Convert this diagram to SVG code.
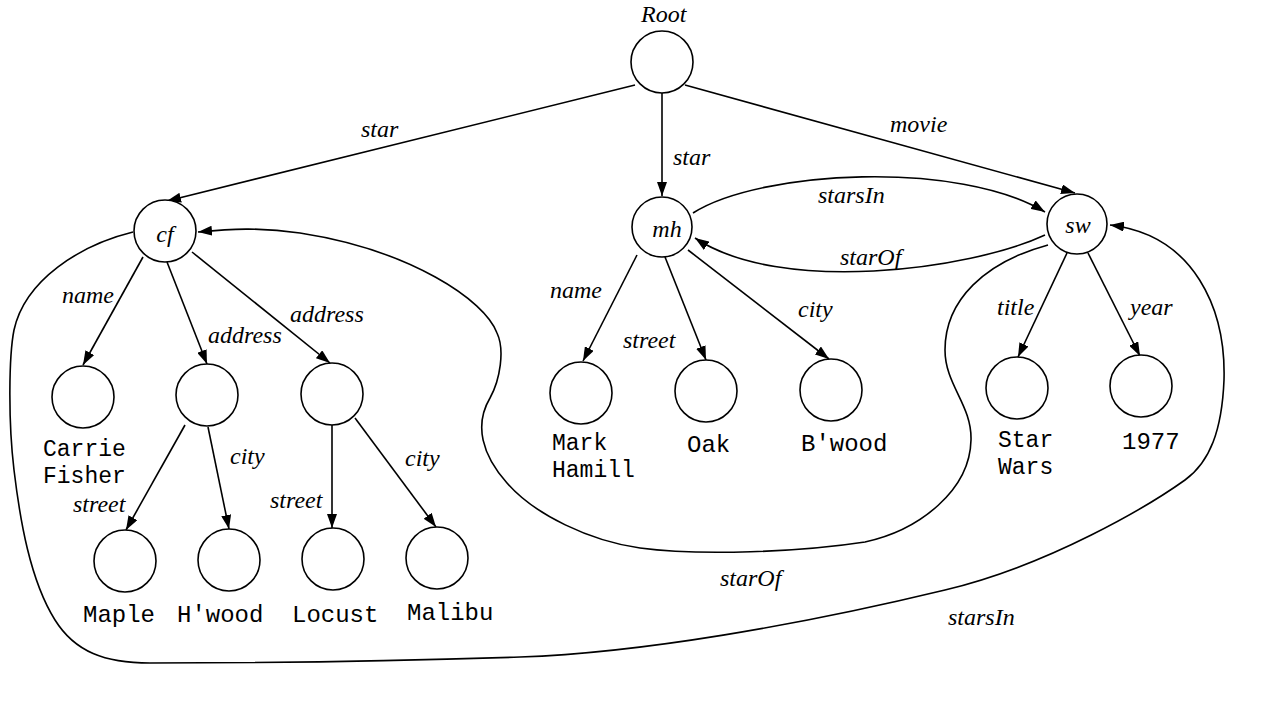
<svg xmlns="http://www.w3.org/2000/svg" width="1265" height="707" viewBox="0 0 1265 707">
<style>
.n{fill:#fff;stroke:#000;stroke-width:1.6}
.e{fill:none;stroke:#000;stroke-width:1.6;marker-end:url(#ah)}
.l{font-family:"Liberation Serif","Times New Roman",serif;font-style:italic;font-size:24px;fill:#000}
.v{font-family:"Liberation Mono","Courier New",monospace;font-size:24px;fill:#000}
.v2{font-family:"Liberation Mono","Courier New",monospace;font-size:23px;fill:#000}
.m{text-anchor:middle}
</style>
<defs>
<marker id="ah" viewBox="0 0 14 10" refX="14" refY="5" markerWidth="14" markerHeight="10" markerUnits="userSpaceOnUse" orient="auto">
<path d="M0,0 L14,5 L0,10 Z" fill="#000"/>
</marker>
</defs>
<rect width="1265" height="707" fill="#fff"/>
<g id="connectors">
<line class="e" x1="635" y1="85" x2="167" y2="201"/>
<line class="e" x1="662" y1="93" x2="662" y2="196"/>
<line class="e" x1="685" y1="85" x2="1075" y2="193"/>
<line class="e" x1="143" y1="257" x2="83" y2="365"/>
<line class="e" x1="167" y1="262" x2="207" y2="364"/>
<line class="e" x1="192" y1="252" x2="330" y2="363"/>
<line class="e" x1="185" y1="425" x2="126" y2="530"/>
<line class="e" x1="208" y1="427" x2="229" y2="529"/>
<line class="e" x1="332" y1="425" x2="332" y2="528"/>
<line class="e" x1="355" y1="418" x2="436" y2="527"/>
<line class="e" x1="637" y1="255" x2="583" y2="361"/>
<line class="e" x1="665" y1="257" x2="706" y2="360"/>
<line class="e" x1="688" y1="250" x2="829" y2="359"/>
<line class="e" x1="1067" y1="253" x2="1018" y2="357"/>
<line class="e" x1="1088" y1="253" x2="1140" y2="356"/>
<path class="e" d="M693,213 C760,170 960,160 1045,212"/>
<path class="e" d="M1045,235 C970,270 780,295 695,238"/>
<path class="e" d="M1048,245 C985,262 945,300 945,350 C945,385 972,405 971,440 C970,490 920,530 865,542 C800,552 700,556 640,548 C590,541 535,515 507,483 C482,455 474,425 490,398 C500,380 505,350 497,333 C485,300 410,250 300,233 C260,227 230,229 198,232"/>
<path class="e" d="M133,232 C80,245 25,280 14,330 C9,355 8,420 14,470 C20,520 30,580 55,620 C75,652 105,663 150,663 C250,663 400,661 520,657 C640,653 800,625 945,590 C1050,565 1150,505 1185,480 C1210,462 1222,430 1224,380 C1226,310 1195,235 1110,225"/>
</g>
<g id="labels">
<text class="l" x="361" y="137">star</text>
<text class="l" x="673" y="165">star</text>
<text class="l" x="890" y="132">movie</text>
<text class="l" x="818" y="203">starsIn</text>
<text class="l" x="840" y="265">starOf</text>
<text class="l" x="62" y="303">name</text>
<text class="l" x="208" y="343">address</text>
<text class="l" x="290" y="322">address</text>
<text class="l" x="230" y="464">city</text>
<text class="l" x="73" y="512">street</text>
<text class="l" x="270" y="508">street</text>
<text class="l" x="405" y="466">city</text>
<text class="l" x="550" y="298">name</text>
<text class="l" x="623" y="348">street</text>
<text class="l" x="798" y="317">city</text>
<text class="l" x="997" y="315">title</text>
<text class="l" x="1130" y="315">year</text>
<text class="l" x="720" y="586">starOf</text>
<text class="l" x="948" y="625">starsIn</text>
</g>
<g id="root"><text class="l" x="641" y="22">Root</text><circle class="n" cx="662" cy="62" r="31"/></g>
<g id="cf"><circle class="n" cx="165" cy="231" r="31"/><text class="l m" x="165" y="242">cf</text></g>
<g id="mh"><circle class="n" cx="662" cy="227" r="30"/><text class="l m" x="667" y="237">mh</text></g>
<g id="sw"><circle class="n" cx="1077" cy="224" r="30"/><text class="l m" x="1078" y="233">sw</text></g>
<g id="cf-name"><circle class="n" cx="83" cy="397" r="31"/><text class="v2" x="43" y="456">Carrie</text><text class="v2" x="43" y="483">Fisher</text></g>
<g id="cf-addr1"><circle class="n" cx="207" cy="395" r="31"/></g>
<g id="cf-addr2"><circle class="n" cx="332" cy="394" r="31"/></g>
<g id="maple"><circle class="n" cx="125" cy="561" r="31"/><text class="v" x="83" y="622">Maple</text></g>
<g id="hwood"><circle class="n" cx="229" cy="560" r="31"/><text class="v" x="177" y="622">H'wood</text></g>
<g id="locust"><circle class="n" cx="333" cy="559" r="31"/><text class="v" x="292" y="622">Locust</text></g>
<g id="malibu"><circle class="n" cx="437" cy="558" r="31"/><text class="v" x="407" y="620">Malibu</text></g>
<g id="mh-name"><circle class="n" cx="581" cy="393" r="31"/><text class="v2" x="552" y="450">Mark</text><text class="v2" x="552" y="477">Hamill</text></g>
<g id="oak"><circle class="n" cx="706" cy="391" r="31"/><text class="v" x="687" y="452">Oak</text></g>
<g id="bwood"><circle class="n" cx="831" cy="390" r="31"/><text class="v" x="801" y="451">B'wood</text></g>
<g id="starwars"><circle class="n" cx="1017" cy="388" r="31"/><text class="v2" x="998" y="447">Star</text><text class="v2" x="998" y="474">Wars</text></g>
<g id="y1977"><circle class="n" cx="1141" cy="386" r="31"/><text class="v" x="1122" y="449">1977</text></g>
</svg>
